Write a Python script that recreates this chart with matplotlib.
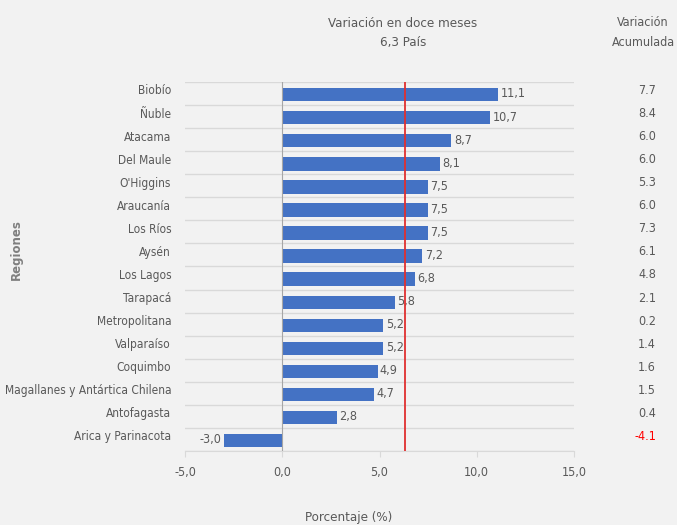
import numpy as np
import matplotlib.pyplot as plt
from matplotlib import font_manager
from matplotlib.transforms import ScaledTranslation

regiones = ['Biobío', 'Ñuble', 'Atacama', 'Del Maule', "O'Higgins", 'Araucanía',
            'Los Ríos', 'Aysén', 'Los Lagos', 'Tarapacá', 'Metropolitana',
            'Valparaíso', 'Coquimbo', 'Magallanes y Antártica Chilena',
            'Antofagasta', 'Arica y Parinacota']
var_12m = [11.1, 10.7, 8.7, 8.1, 7.5, 7.5, 7.5, 7.2, 6.8, 5.8, 5.2, 5.2, 4.9, 4.7, 2.8, -3.0]
var_acum = [7.7, 8.4, 6.0, 6.0, 5.3, 6.0, 7.3, 6.1, 4.8, 2.1, 0.2, 1.4, 1.6, 1.5, 0.4, -4.1]
pais = 6.3
xticks = [-5, 0, 5, 10, 15]

# look for a condensed face, the original uses a narrow font
narrow, stretch = 'DejaVu Sans', 'normal'
cands = [f for f in font_manager.fontManager.ttflist
         if f.style == 'normal' and f.weight in (400, 'normal', 'regular')
         and ('Narrow' in f.name or 'Condensed' in f.name
              or f.stretch in ('condensed', 'semi-condensed', 'extra-condensed'))]
for f in cands:
    narrow, stretch = f.name, f.stretch
    if 'Narrow' in f.name or f.stretch == 'condensed':
        break
plt.rcParams['font.family'] = [narrow, 'DejaVu Sans']
plt.rcParams['font.stretch'] = stretch

txt = '#595959'
bg = '#F2F2F2'
fs = 9

fig = plt.figure(figsize=(6.77, 5.25), dpi=100, facecolor=bg)
ax = fig.add_axes([0.2733, 0.141, 0.5746, 0.7029], facecolor=bg)

n = len(regiones)
y = np.arange(n)
ax.barh(y + 0.05, var_12m, height=0.58, color='#4472C4', zorder=3)

for yi, v in zip(y, var_12m):
    s = f'{v:.1f}'.replace('.', ',')
    if v >= 0:
        ax.text(v + 0.12, yi + 0.02, s, ha='left', va='center', fontsize=fs, color=txt, zorder=4)
    else:
        ax.text(v - 0.12, yi + 0.02, s, ha='right', va='center', fontsize=fs, color=txt, zorder=4)

# category gridlines
for b in np.arange(n + 1) - 0.5:
    ax.axhline(b, color='#D9D9D9', lw=1, zorder=1)
ax.axvline(0, color='#A6A6A6', lw=0.8, zorder=4)
ax.axvline(pais, color='#E03030', lw=1.3, zorder=5)

ax.set_xlim(-5, 15)
ax.set_ylim(n - 0.5, -0.5)
ax.set_xticks(xticks)
ax.set_xticklabels([f'{t:.1f}'.replace('.', ',') for t in xticks], fontsize=fs, color=txt)
ax.set_yticks(y)
ax.set_yticklabels(regiones, fontsize=8.6, color=txt)
ax.tick_params(axis='y', length=0, pad=10)
ax.tick_params(axis='x', length=4, color='#D9D9D9', pad=7)
for lab in ax.get_yticklabels():
    lab.set_transform(lab.get_transform() + ScaledTranslation(0, 0.04, fig.dpi_scale_trans))
for sp in ['left', 'right', 'top']:
    ax.spines[sp].set_visible(False)
ax.spines['bottom'].set_color('#D9D9D9')

# accumulated column
for yi, v in zip(y, var_acum):
    ax.annotate(f'{v:.1f}', xy=(1, yi), xycoords=('axes fraction', 'data'),
                xytext=(82, 3), textcoords='offset pixels', ha='right', va='center',
                fontsize=fs, color='#FF0000' if v < 0 else txt, annotation_clip=False)

fig.text(403 / 677, 1 - 33 / 525, 'Variación en doce meses\n6,3 País', ha='center', va='center',
         fontsize=9.5, color=txt, linespacing=1.6)
fig.text(643 / 677, 1 - 33 / 525, 'Variación\nAcumulada', ha='center', va='center',
         fontsize=9, color=txt, linespacing=1.7)
fig.text(349 / 677, 1 - 517 / 525, 'Porcentaje (%)', ha='center', va='center',
         fontsize=9.5, color=txt)
fig.text(16 / 677, 1 - 250 / 525, 'Regiones', ha='center', va='center', rotation=90,
         fontsize=8.5, color='#7F7F7F', fontweight='bold', family='DejaVu Sans',
         fontstretch='normal')

fig.savefig('out.png', dpi=100, facecolor=bg)
